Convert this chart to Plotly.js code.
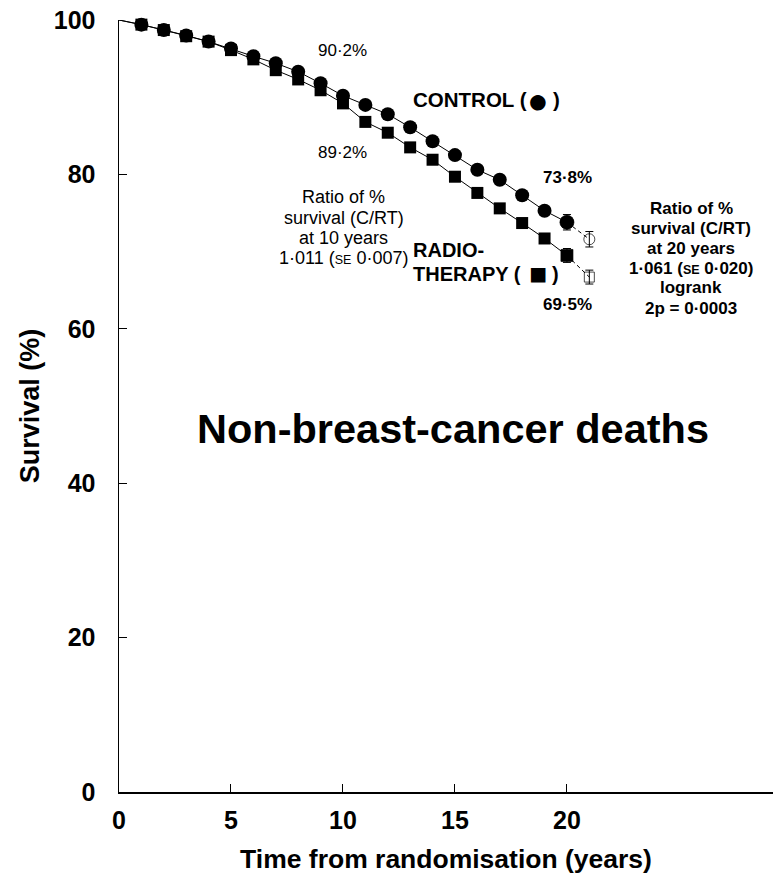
<!DOCTYPE html>
<html>
<head>
<meta charset="utf-8">
<script src="https://cdn.plot.ly/plotly-3.0.1.min.js"></script>
<style>
  html, body { margin: 0; padding: 0; background: #ffffff; }
  #chart { width: 773px; height: 879px; }
</style>
</head>
<body>
<div id="chart"></div>
<script>
// ---- Data ----
const years = [0, 1, 2, 3, 4, 5, 6, 7, 8, 9, 10, 11, 12, 13, 14, 15, 16, 17, 18, 19, 20];
const controlSurvival = [100, 99.4, 98.7, 98.0, 97.2, 96.3, 95.3, 94.4, 93.3, 91.8, 90.2, 89.0, 87.8, 86.1, 84.3, 82.5, 80.6, 79.3, 77.3, 75.3, 73.8];
const rtSurvival = [100, 99.4, 98.7, 97.9, 97.2, 96.1, 94.9, 93.5, 92.3, 90.9, 89.2, 86.8, 85.4, 83.5, 81.9, 79.7, 77.6, 75.6, 73.7, 71.7, 69.5];
const tailYears = [20, 21];
const controlTail = [73.8, 71.6];
const rtTail = [69.5, 66.7];
const controlTailSE = [1.0, 1.0];
const rtTailSE = [0.9, 0.9];
const xTickVals = [0, 5, 10, 15, 20];
const xTickText = ['0', '5', '10', '15', '20'];
const yTickVals = [0, 20, 40, 60, 80, 100];
const yTickText = ['0', '20', '40', '60', '80', '100'];

const FONT = 'Liberation Sans, Arial, Helvetica, sans-serif';
const BLACK = '#000000';

const markerYears = years.slice(1);
const controlMarkers = controlSurvival.slice(1);
const rtMarkers = rtSurvival.slice(1);

const traces = [
  { x: years, y: controlSurvival, mode: 'lines', line: { color: BLACK, width: 1 }, hoverinfo: 'skip', cliponaxis: false },
  { x: years, y: rtSurvival, mode: 'lines', line: { color: BLACK, width: 1 }, hoverinfo: 'skip', cliponaxis: false },
  { x: tailYears, y: controlTail, mode: 'lines', line: { color: BLACK, width: 1, dash: '4px,3px' }, hoverinfo: 'skip' },
  { x: tailYears, y: rtTail, mode: 'lines', line: { color: BLACK, width: 1, dash: '4px,3px' }, hoverinfo: 'skip' },
  { x: markerYears, y: controlMarkers, mode: 'markers', marker: { symbol: 'circle', size: 14, color: BLACK }, cliponaxis: false },
  { x: markerYears, y: rtMarkers, mode: 'markers', marker: { symbol: 'square', size: 12, color: BLACK }, cliponaxis: false },
  { x: tailYears, y: controlTail, mode: 'markers',
    marker: { symbol: ['circle', 'circle-open'], size: [14, 11], color: BLACK, line: { color: BLACK, width: 1 } },
    error_y: { type: 'data', array: controlTailSE, visible: true, color: BLACK, thickness: 1, width: 4 }, cliponaxis: false },
  { x: tailYears, y: rtTail, mode: 'markers',
    marker: { symbol: ['square', 'square-open'], size: [12, 10], color: BLACK, line: { color: BLACK, width: 1 } },
    error_y: { type: 'data', array: rtTailSE, visible: true, color: BLACK, thickness: 1, width: 4 }, cliponaxis: false }
];

function ann(text, x, y, size, bold, xanchor) {
  return {
    text: text, x: x, y: y, xref: 'x', yref: 'y', showarrow: false,
    xanchor: xanchor || 'center', yanchor: 'middle',
    font: { family: FONT, size: size, color: BLACK, weight: bold ? 'bold' : 'normal' }
  };
}
const SE = '<span style="font-size:12.5px">SE</span>';

const annotations = [
  ann('90·2%', 9.96, 96.07, 17, false),
  ann('89·2%', 9.96, 82.85, 17, false),
  ann('CONTROL (', 13.04, 89.65, 20.5, true, 'left'),
  ann('●', 18.72, 89.57, 36, false),
  ann(')', 19.78, 89.65, 20.5, true, 'right'),
  ann('73·8%', 20.03, 79.61, 17, true),
  ann('RADIO-', 13.02, 70.21, 20, true, 'left'),
  ann('THERAPY (', 13.02, 67.1, 20, true, 'left'),
  ann('■', 18.72, 67.2, 30, false),
  ann(')', 19.72, 67.1, 20, true, 'right'),
  ann('69·5%', 20.03, 63.21, 17, true),
  ann('Ratio of %', 10.04, 77.04, 18, false),
  ann('survival (C/RT)', 10.04, 74.32, 18, false),
  ann('at 10 years', 10.04, 71.73, 18, false),
  ann('1·011 (' + SE + ' 0·007)', 10.04, 69.14, 18, false),
  ann('Ratio of %', 25.54, 75.53, 17, true),
  ann('survival (C/RT)', 25.54, 72.94, 17, true),
  ann('at 20 years', 25.54, 70.34, 17, true),
  ann('1·061 (' + SE + ' 0·020)', 25.54, 67.75, 17, true),
  ann('logrank', 25.54, 65.29, 17, true),
  ann('2p = 0·0003', 25.54, 62.69, 17, true),
  ann('Non-breast-cancer deaths', 14.91, 47.15, 41.5, true)
];

const layout = {
  width: 773, height: 879,
  margin: { l: 119, r: 0, t: 20, b: 87, pad: 0 },
  paper_bgcolor: '#ffffff', plot_bgcolor: '#ffffff',
  showlegend: false,
  font: { family: FONT, color: BLACK },
  xaxis: {
    range: [0, 29.2], showgrid: false, zeroline: false,
    showline: true, linecolor: BLACK, linewidth: 1.5,
    ticks: 'inside', ticklen: 8, tickwidth: 1, tickcolor: BLACK,
    tickvals: xTickVals, ticktext: xTickText,
    tickfont: { family: FONT, size: 25, color: BLACK, weight: 'bold' },
    ticklabelstandoff: 5,
    title: { text: 'Time from randomisation (years)', standoff: 17,
      font: { family: FONT, size: 26.5, color: BLACK, weight: 'bold' } },
    automargin: false, fixedrange: true
  },
  yaxis: {
    range: [0, 100], showgrid: false, zeroline: false,
    showline: true, linecolor: BLACK, linewidth: 1.5,
    ticks: 'inside', ticklen: 8, tickwidth: 1, tickcolor: BLACK,
    tickvals: yTickVals, ticktext: yTickText,
    tickfont: { family: FONT, size: 25, color: BLACK, weight: 'bold' },
    ticklabelstandoff: 17,
    title: { text: 'Survival (%)', standoff: 6,
      font: { family: FONT, size: 27, color: BLACK, weight: 'bold' } },
    automargin: false, fixedrange: true
  },
  annotations: annotations
};

Plotly.newPlot('chart', traces, layout, { staticPlot: true, displayModeBar: false });
</script>
</body>
</html>
